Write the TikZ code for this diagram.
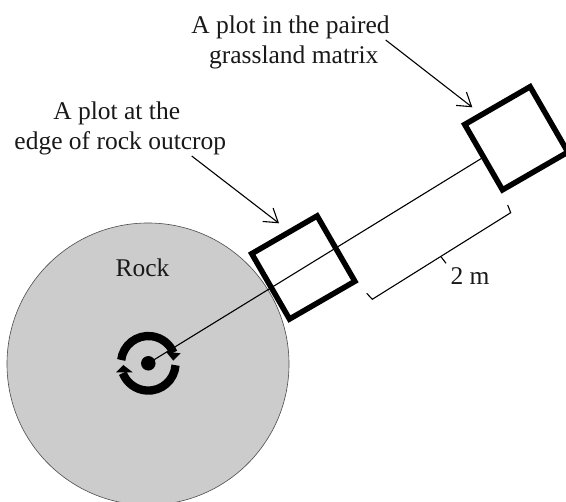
\documentclass[tikz,border=0pt]{standalone}
\usepackage{fontspec}
\setmainfont{Liberation Serif}
\usetikzlibrary{arrows.meta}
\tikzset{
  plotsq/.style={draw=black,line width=5.5pt,minimum size=75.5pt,inner sep=0pt,rotate=30,miter limit=10},
  lbl/.style={font=\fontsize{25.5}{30}\selectfont,inner sep=0pt,text=black!90,anchor=base},
  lead/.style={line width=1.1pt,-{Straight Barb[length=13pt,width=17pt,line width=1.1pt]}},
  thinl/.style={line width=1.1pt},
  ring/.style={line width=8.3pt},
}
\begin{document}
\begin{tikzpicture}[x=1pt,y=-1pt]
\useasboundingbox (0,0) rectangle (566,502);
\fill[white] (0,0) rectangle (566,502);
\node[circle,draw=black!70,line width=0.6pt,fill=black!20,minimum size=282pt,inner sep=0pt] (rock) at (148,364) {};
\node[circle,fill=black,minimum size=14.5pt,inner sep=0pt] (dot) at (148.3,363.3) {};
\node[plotsq] (sqa) at (303.3,267.5) {};
\node[plotsq] (sqb) at (516.3,138.3) {};
\draw[thinl] (dot.center) -- (sqb.west);
% rotating arrows
\begin{scope}[shift={(dot.center)}]
\draw[ring] (187:27.3) arc[start angle=187,end angle=337,radius=27.3];
\draw[ring] (4:27.3) arc[start angle=4,end angle=159,radius=27.3];
\fill (17.7,-11.6) -- (32.4,-10) -- (25,-2.6) -- cycle;
\fill (-32.3,9) -- (-15.6,9) -- (-25,1.7) -- cycle;
\end{scope}
% labels
\node[lbl] (t1a) at (290.5,33.5) {A plot in the paired};
\node[lbl] (t1b) at (293.8,63.5) {grassland matrix};
\node[lbl] (t2a) at (116.7,120) {A plot at the};
\node[lbl] (t2b) at (120.3,149.5) {edge of rock outcrop};
\node[lbl] (trock) at (142.5,276.7) {Rock};
\node[lbl] (tdist) at (470,285) {2 m};
% leaders
\coordinate (s1) at (385.7,40);
\coordinate (e1) at (472.3,107.3);
\coordinate (s2) at (191.7,156);
\coordinate (e2) at (279,223.3);
\draw[lead] (s1) -- (e1);
\draw[lead] (s2) -- (e2);
% bracket
\coordinate (ba) at (366.7,293.3);
\coordinate (bb) at (372.3,299.3);
\coordinate (bc) at (510.7,212.7);
\coordinate (bd) at (507.7,205);
\coordinate (ta) at (441,256.7);
\coordinate (tb) at (446,263.3);
\draw[thinl] (ba) -- (bb) -- (bc) -- (bd);
\draw[thinl] (ta) -- (tb);
\end{tikzpicture}
\end{document}
